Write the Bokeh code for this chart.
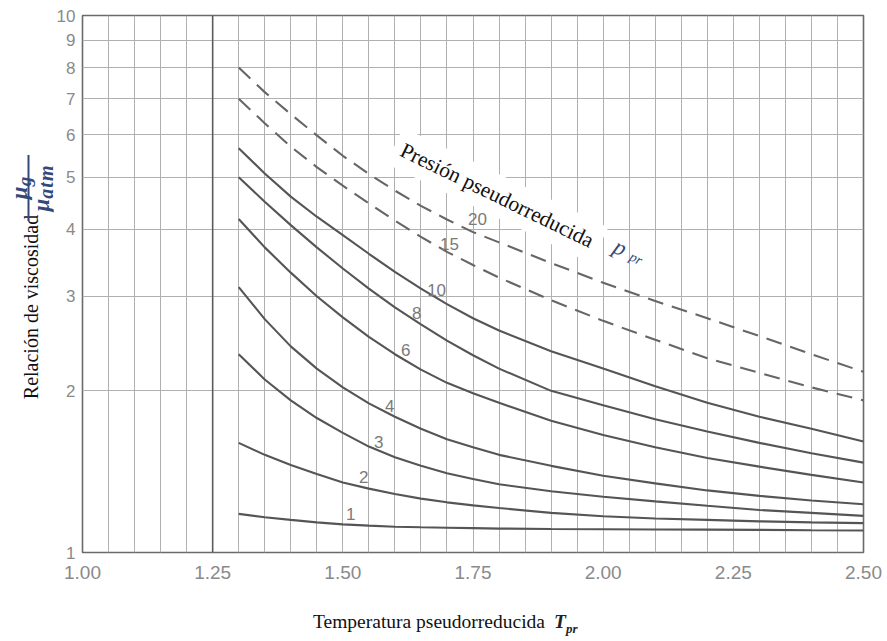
import math
import numpy as np
from bokeh.plotting import figure
from bokeh.models import Range1d, FixedTicker, Span, Label, Div
from bokeh.layouts import column, row
from bokeh.embed import file_html
from bokeh.resources import INLINE

# ---------------- data ----------------
tpr = [1.30, 1.35, 1.40, 1.45, 1.50, 1.55, 1.60, 1.65, 1.70, 1.75,
       1.80, 1.90, 2.00, 2.10, 2.20, 2.30, 2.40, 2.50]

ratio_p1 = [1.18, 1.163, 1.15, 1.138, 1.128, 1.122, 1.117, 1.114, 1.112, 1.11,
            1.108, 1.106, 1.105, 1.104, 1.103, 1.102, 1.100, 1.099]
ratio_p2 = [1.60, 1.52, 1.455, 1.40, 1.35, 1.315, 1.285, 1.26, 1.24, 1.224,
            1.21, 1.185, 1.168, 1.157, 1.15, 1.143, 1.138, 1.134]
ratio_p3 = [2.34, 2.10, 1.92, 1.78, 1.67, 1.575, 1.505, 1.45, 1.405, 1.37,
            1.34, 1.30, 1.27, 1.245, 1.222, 1.20, 1.185, 1.17]
ratio_p4 = [3.12, 2.72, 2.42, 2.20, 2.03, 1.895, 1.79, 1.70, 1.625, 1.57,
            1.52, 1.45, 1.39, 1.345, 1.305, 1.275, 1.25, 1.23]
ratio_p6 = [4.18, 3.70, 3.32, 3.00, 2.74, 2.52, 2.34, 2.19, 2.07, 1.98,
            1.90, 1.76, 1.655, 1.57, 1.50, 1.445, 1.395, 1.35]
ratio_p8 = [5.0, 4.5, 4.07, 3.70, 3.38, 3.10, 2.86, 2.66, 2.48, 2.33,
            2.20, 2.00, 1.88, 1.77, 1.68, 1.60, 1.53, 1.47]
ratio_p10 = [5.66, 5.08, 4.60, 4.22, 3.90, 3.60, 3.33, 3.10, 2.90, 2.73,
             2.59, 2.37, 2.20, 2.04, 1.90, 1.79, 1.70, 1.61]
ratio_p15 = [7.0, 6.3, 5.7, 5.22, 4.82, 4.47, 4.15, 3.87, 3.63, 3.43,
             3.25, 2.95, 2.70, 2.49, 2.30, 2.16, 2.03, 1.92]
ratio_p20 = [8.0, 7.2, 6.55, 5.98, 5.48, 5.07, 4.72, 4.42, 4.17, 3.95,
             3.78, 3.46, 3.18, 2.94, 2.73, 2.53, 2.34, 2.17]

solid_series = [ratio_p1, ratio_p2, ratio_p3, ratio_p4, ratio_p6, ratio_p8, ratio_p10]
dashed_series = [ratio_p15, ratio_p20]

curve_names = ["1", "2", "3", "4", "6", "8", "10", "15", "20"]

x_ticks = [1.00, 1.25, 1.50, 1.75, 2.00, 2.25, 2.50]
x_tick_labels = ["1.00", "1.25", "1.50", "1.75", "2.00", "2.25", "2.50"]
y_ticks = [1, 2, 3, 4, 5, 6, 7, 8, 9, 10]
y_tick_labels = ["1", "2", "3", "4", "5", "6", "7", "8", "9", "10"]

# ---------------- helpers: page pixel -> data position (for annotations) ----------------
FX0, FX1, FY0, FY1 = 80, 863, 552, 15


def dx(px):
    return 1.0 + (px - FX0) / (FX1 - FX0) * 1.5


def dy(py):
    return 10 ** ((FY0 - py) / (FY0 - FY1))


LEFT_W = 53
TOP_H = 588

# ---------------- figure ----------------
p = figure(width=832, height=TOP_H, x_range=Range1d(1.0, 2.5), y_range=Range1d(1, 10),
           y_axis_type="log", output_backend="svg", toolbar_location=None, title=None,
           min_border_left=27, min_border_right=22, min_border_top=15, min_border_bottom=36)
p.background_fill_color = "white"
p.border_fill_color = "white"
p.outline_line_color = "#6a6a6a"
p.outline_line_width = 1.6

for ax in (p.xaxis[0], p.yaxis[0]):
    ax.axis_line_color = None
    ax.major_tick_line_color = None
    ax.minor_tick_line_color = None
    ax.major_tick_out = 0
    ax.major_tick_in = 0
    ax.major_label_text_font = "Liberation Sans"
    ax.major_label_text_color = "#8a8a8a"

p.xaxis.ticker = FixedTicker(ticks=x_ticks)
p.xaxis.major_label_overrides = dict(zip(x_ticks, x_tick_labels))
p.xaxis.major_label_standoff = 13
p.xaxis.major_label_text_font_size = "19px"
p.yaxis.ticker = FixedTicker(ticks=y_ticks)
p.yaxis.major_label_overrides = dict(zip(y_ticks, y_tick_labels))
p.yaxis.major_label_standoff = 7
p.yaxis.major_label_text_font_size = "17px"

# grid
p.xgrid.ticker = FixedTicker(ticks=[round(1.0 + 0.05 * i, 2) for i in range(31)])
p.ygrid.ticker = FixedTicker(ticks=y_ticks)
for g in (p.xgrid[0], p.ygrid[0]):
    g.grid_line_color = "#b0b0b0"
    g.grid_line_width = 1
p.add_layout(Span(location=1.25, dimension="height", line_color="#5a5a5a", line_width=1.6))

# curves
for ys in solid_series:
    p.line(tpr, ys, line_color="#555555", line_width=2.1)
for ys in dashed_series:
    p.line(tpr, ys, line_color="#666666", line_width=2.1, line_dash="16 9")

# curve labels
label_px = {"20": (476, 218), "15": (448, 243), "10": (435, 289), "8": (415, 312),
            "6": (404, 349), "4": (388, 405), "3": (377, 441), "2": (362, 476), "1": (349, 513)}
for name in curve_names:
    px, py = label_px[name]
    p.add_layout(Label(x=dx(px), y=dy(py), text=name, text_align="center",
                       text_baseline="middle", text_font="Liberation Sans",
                       text_font_size="17px", text_color="#7a7a7a"))

# pressure annotation (inside plot area)
ang = -math.radians(26)
p.add_layout(Label(x=dx(393), y=dy(145), text="Presión pseudorreducida", angle=ang,
                   text_align="left", text_baseline="middle", text_font="Liberation Serif",
                   text_font_size="21.5px", text_color="#111111",
                   background_fill_color="white", padding=8))
p.add_layout(Label(x=dx(619), y=dy(247), text="p", angle=ang, text_align="center",
                   text_baseline="middle", text_font="Liberation Serif", text_font_style="italic",
                   text_font_size="23px", text_color="#34497a"))
p.add_layout(Label(x=dx(635), y=dy(258), text="pr", angle=ang, text_align="center",
                   text_baseline="middle", text_font="Liberation Serif", text_font_style="italic",
                   text_font_size="14px", text_color="#34497a"))

# ---------------- axis titles as HTML blocks around the plot ----------------
y_html = (
    '<div style="position:relative;width:53px;height:588px;">'
    '<div style="position:absolute;left:31px;top:307px;transform:translate(-50%,-50%) rotate(-90deg);'
    'white-space:nowrap;font-family:\'Liberation Serif\';font-size:20px;line-height:22px;color:#111;">'
    'Relación de viscosidad</div>'
    '<div style="position:absolute;left:32px;top:188px;width:66px;height:41px;'
    'transform:translate(-50%,-50%) rotate(-90deg);white-space:nowrap;'
    'font-family:\'Liberation Serif\';font-style:italic;font-weight:bold;color:#34497a;">'
    '<div style="height:16px;font-size:23px;line-height:16px;text-align:center;">'
    'μ<span style="font-size:19px;position:relative;top:4px;">g</span></div>'
    '<div style="height:2px;background:#34497a;"></div>'
    '<div style="height:23px;font-size:23px;line-height:23px;text-align:center;">'
    'μ<span style="font-size:20px;letter-spacing:1px;position:relative;top:4px;">atm</span></div>'
    '</div></div>'
)
x_html = (
    '<div style="position:relative;width:885px;height:50px;">'
    '<div style="position:absolute;left:313px;top:22px;white-space:nowrap;'
    'font-family:\'Liberation Serif\';font-size:19.5px;line-height:23px;color:#111;">'
    'Temperatura pseudorreducida'
    '<span style="margin-left:9px;font-style:italic;font-weight:bold;color:#222;">T'
    '<sub style="font-size:13px;">pr</sub></span></div></div>'
)

ydiv = Div(text=y_html, width=LEFT_W, height=TOP_H, margin=0)
xdiv = Div(text=x_html, width=LEFT_W + 832, height=50, margin=0)

layout = column(row(ydiv, p, spacing=0), xdiv, spacing=0)

open("out.html", "w").write(file_html(layout, INLINE))
